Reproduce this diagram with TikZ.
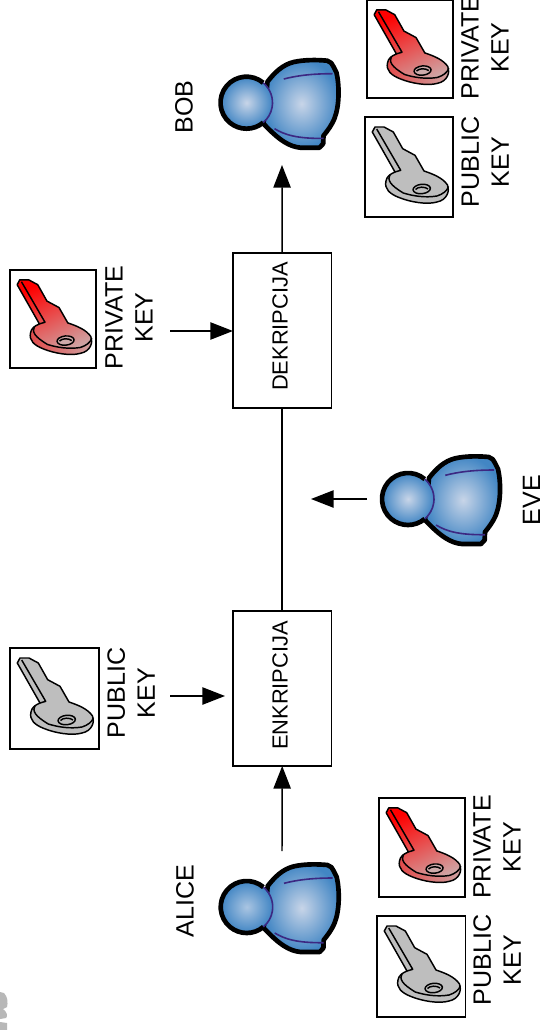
\documentclass[tikz,border=0pt]{standalone}
\usepackage{fontspec}
\setmainfont{Liberation Sans}
\usetikzlibrary{arrows.meta}
\definecolor{bluelight}{RGB}{200,213,232}
\definecolor{bluemild}{RGB}{170,197,226}
\definecolor{blueout}{RGB}{66,134,196}
\definecolor{purpleline}{RGB}{60,40,130}
\definecolor{keygrey}{RGB}{190,190,190}
\definecolor{keymid}{RGB}{218,105,105}
\definecolor{keypale}{RGB}{205,170,170}
\definecolor{keyside}{RGB}{228,60,60}
\newcommand{\keyoutline}{(7.3,15) -- (10,10) -- (19,10) -- (28.3,15) -- (37.7,31.7) -- (50,38.3) -- (59,54) .. controls (68,57) and (78,61) .. (82.5,68) .. controls (85,74) and (82,83) .. (72,85) .. controls (62,88) and (45,85) .. (34,80.5) .. controls (25,77) and (19,72) .. (21,64) .. controls (21.5,60) and (25,57) .. (30,55) -- cycle}
\newcommand{\keyedge}{(25,57.5) .. controls (22,63) and (25,68) .. (38.3,76) .. controls (48,79) and (60,81) .. (72,79) .. controls (78,77) and (82,74) .. (83.5,69.5)}
\tikzset{
  procbox/.style={draw,line width=1.1pt,minimum width=98.5*0.75pt,minimum height=155*0.75pt,inner sep=0pt,outer sep=0pt},
  proclab/.style={inner sep=0pt,outer sep=0pt,rotate=90,font=\fontsize{16.4}{19}\selectfont},
  keybox/.style 2 args={draw,line width=1.1pt,fill=white,anchor=north west,minimum width=#1*0.75pt,minimum height=#2*0.75pt,inner sep=0pt,outer sep=0pt},
  lab/.style={inner sep=0pt,outer sep=0pt,align=center,rotate=90,font=\fontsize{18.8}{22.5}\selectfont},
  flow/.style={line width=1.1pt,-{Triangle[length=17pt,width=13pt]}},
  plainflow/.style={line width=1.1pt},
  keyline/.style={line width=1.1pt,line join=round},
  pics/publickey/.style={code={
    \draw[keyline,fill=keygrey] \keyoutline;
    \draw[keyline] (11.7,12) -- (35.7,53.3) -- (30,55);
    \draw[keyline] \keyedge;
    \draw[keyline,fill=keygrey,rotate around={6:(56.7,72)}] (56.7,72) ellipse [x radius=8.7,y radius=4.7];
    \draw[keyline] (50.5,72.5) .. controls (53,69.5) and (60,69.5) .. (63,72);
  }},
  pics/privatekey/.style={code={
    \shade[top color=red,middle color=keymid,bottom color=keypale,shading angle=25] \keyoutline;
    \begin{scope}
      \clip \keyoutline;
      \shade[left color=keyside,right color=keypale] \keyedge -- (90,95) -- (10,95) -- cycle;
    \end{scope}
    \draw[keyline] \keyoutline;
    \draw[keyline] (11.7,12) -- (35.7,53.3) -- (30,55);
    \draw[keyline] \keyedge;
    \draw[keyline,fill=keypale,rotate around={6:(56.7,72)}] (56.7,72) ellipse [x radius=8.7,y radius=4.7];
    \draw[keyline] (50.5,72.5) .. controls (53,69.5) and (60,69.5) .. (63,72);
  }},
  pics/person/.style={code={
    \shade[draw=black,line width=3.5pt,line join=round,inner color=bluelight,outer color=blueout]
      (17,21) -- (21,-21)
      .. controls (28,-30) and (36,-38) .. (47.3,-40.7)
      .. controls (58,-43) and (70,-43) .. (80.7,-42)
      .. controls (84,-41) and (86,-39) .. (87,-36) -- (90,-30)
      .. controls (93,-17) and (93,3) .. (88,15.7)
      .. controls (85,23) and (81,28) .. (77,33) -- (76.7,41)
      -- (73,45) -- (54,45)
      .. controls (43,44) and (33,38) .. (17,21) -- cycle;
    \draw[purpleline,line width=1.2pt] (37.3,-23.7) .. controls (50,-27) and (65,-29) .. (86,-29);
    \draw[purpleline,line width=1.2pt] (28,26) .. controls (38,32) and (50,36) .. (77,35.7);
    \shade[inner color=#1,outer color=blueout] (0,0) circle [radius=25.5];
    \draw[line width=3.5pt] (-50:26) arc [start angle=-50,end angle=-310,radius=26];
    \draw[purpleline,line width=1.2pt] (-50:26) arc [start angle=-50,end angle=50,radius=26];
  }}
}
\begin{document}
\begin{tikzpicture}[x=0.75pt,y=-0.75pt]
\clip (0,0) rectangle (542,1030);
\fill[white] (0,0) rectangle (542,1030);

% cut-off mark at the lower left edge
\fill[black!28] (0,992) -- (4,993) .. controls (8,997) and (8,1003) .. (7,1007) -- (3,1009) .. controls (7,1012) and (8,1016) .. (6,1018) -- (0,1019) -- cycle;
\fill[black!28] (0,1022) -- (7,1023) -- (7,1030) -- (0,1030) -- cycle;

% process boxes
\node[procbox] (dek) at (282.2,330.4) {};
\node[proclab] (dekl) at (280,326.5) {DEKRIPCIJA};
\node[procbox] (enk) at (282.2,688.5) {};
\node[proclab] (enkl) at (280,685.5) {ENKRIPCIJA};

% people
\pic (bob) at (246.5,102.7) {person=bluelight};
\pic (eve) at (408,499) {person=bluelight};
\pic (alice) at (246.7,907) {person=bluemild};
\node[lab] (bobl) at (184,107) {BOB};
\node[lab] (evel) at (531.5,500) {EVE};
\node[lab] (alicel) at (185,901) {ALICE};

% keys
\node[keybox={86}{98}] (k1) at (367,0) {};
\pic[scale=0.98] at (k1.north west) {privatekey};
\node[lab] (k1l) at (485,47.5) {PRIVATE\\KEY};
\node[keybox={88}{100}] (k2) at (365,117) {};
\pic at (k2.north west) {publickey};
\node[lab] (k2l) at (485,162) {PUBLIC\\KEY};
\node[keybox={86}{98}] (k3) at (10,270) {};
\pic[scale=0.98] at (k3.north west) {privatekey};
\node[lab] (k3l) at (129,317.5) {PRIVATE\\KEY};
\node[keybox={89}{101}] (k4) at (10,648) {};
\pic at (k4.north west) {publickey};
\node[lab] (k4l) at (131,693) {PUBLIC\\KEY};
\node[keybox={86}{99}] (k5) at (379,798) {};
\pic[scale=0.98] at (k5.north west) {privatekey};
\node[lab] (k5l) at (497,847) {PRIVATE\\KEY};
\node[keybox={88.5}{101}] (k6) at (377,916) {};
\pic at (k6.north west) {publickey};
\node[lab] (k6l) at (497,960) {PUBLIC\\KEY};

% connectors
\coordinate (aliceout) at (282,851);
\coordinate (bobin) at (282,165);
\coordinate (pubout) at (170,696);
\coordinate (pubin) at (225,696);
\coordinate (privout) at (170,331);
\coordinate (eveout) at (367,499);
\coordinate (tapin) at (311,499);
\draw[flow] (aliceout) -- (enk.south);
\draw[plainflow] (enk.north) -- (dek.south);
\draw[flow] (dek.north) -- (bobin);
\draw[flow] (pubout) -- (pubin);
\draw[flow] (privout) -- (dek.west |- privout);
\draw[flow] (eveout) -- (tapin);
\end{tikzpicture}
\end{document}
